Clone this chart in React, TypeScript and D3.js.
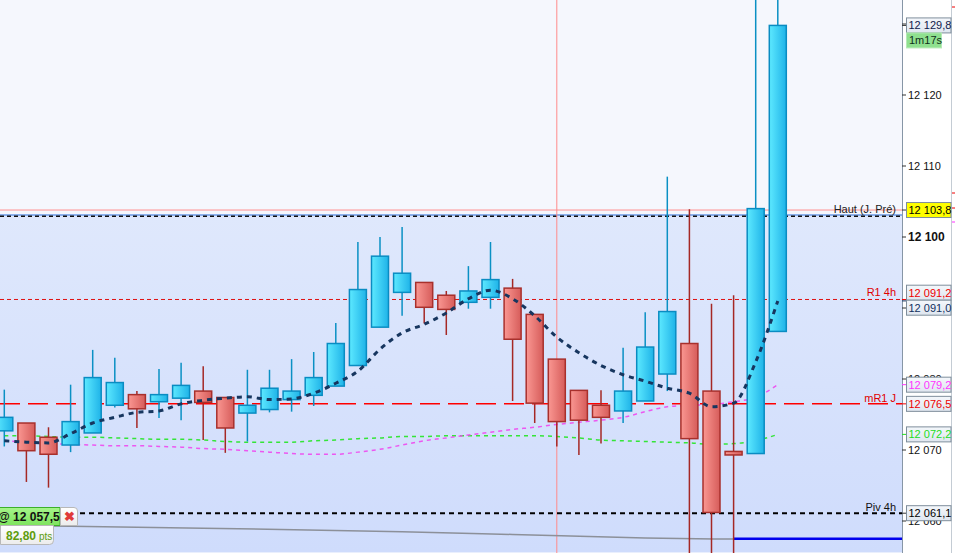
import React from "react";
import * as d3 from "d3";

const W = 955;
const H = 553;

// ---- candle data (index-based time axis) ----
const openP = [12072.7, 12073.8, 12071.8, 12070.7, 12072.4, 12076.3, 12077.8, 12076.8, 12077.3, 12078.3, 12077.4, 12075.2, 12075.7, 12077.1, 12077.7, 12079.0, 12081.9, 12087.3, 12092.2, 12093.6, 12091.8, 12090.8, 12091.5, 12092.8, 12089.1, 12082.8, 12078.4, 12076.3, 12075.5, 12076.9, 12080.7, 12085.0, 12078.3, 12069.8, 12069.5, 12086.7];
const highP = [12078.5, 12073.8, 12073.2, 12079.2, 12084.1, 12083.0, 12078.3, 12081.4, 12082.3, 12081.8, 12077.4, 12081.3, 12081.3, 12082.8, 12083.8, 12087.9, 12099.3, 12100.0, 12101.4, 12093.6, 12092.4, 12095.9, 12099.3, 12094.1, 12089.1, 12082.8, 12078.4, 12078.4, 12084.4, 12089.4, 12108.5, 12103.9, 12090.6, 12091.8, 12136.0, 12136.0];
const lowP = [12070.5, 12065.5, 12064.7, 12069.7, 12072.4, 12076.0, 12073.1, 12074.5, 12074.2, 12071.4, 12069.6, 12071.2, 12075.3, 12075.4, 12076.2, 12079.0, 12081.9, 12087.3, 12088.9, 12087.8, 12086.2, 12089.9, 12089.9, 12076.9, 12073.8, 12070.5, 12069.3, 12070.9, 12073.8, 12076.9, 12078.3, 12052.0, 12052.0, 12052.0, 12069.5, 12086.7];
const closeP = [12074.6, 12069.9, 12069.4, 12074.0, 12080.2, 12079.5, 12075.8, 12077.8, 12079.1, 12076.7, 12073.1, 12076.3, 12078.7, 12078.3, 12080.2, 12085.0, 12092.6, 12097.3, 12094.9, 12090.1, 12089.8, 12092.4, 12094.0, 12085.6, 12076.6, 12074.0, 12074.2, 12074.6, 12078.3, 12084.5, 12089.5, 12071.6, 12061.2, 12069.3, 12104.0, 12129.8];

// ---- moving averages (one value per candle) ----
const maFast = [12071.3, 12071.1, 12071.0, 12072.3, 12073.8, 12074.6, 12075.3, 12075.5, 12076.5, 12077.0, 12077.3, 12077.5, 12077.1, 12077.2, 12078.0, 12079.4, 12081.1, 12084.2, 12086.5, 12087.7, 12089.3, 12091.3, 12092.5, 12091.3, 12088.9, 12085.9, 12083.7, 12081.9, 12080.6, 12079.7, 12078.7, 12078.0, 12076.1, 12076.6, 12082.4, 12091.0];
const maGreen = [12072.0, 12072.0, 12071.9, 12071.8, 12071.8, 12071.7, 12071.6, 12071.5, 12071.5, 12071.4, 12071.2, 12071.1, 12071.1, 12071.1, 12071.3, 12071.4, 12071.6, 12071.7, 12071.9, 12071.9, 12072.0, 12072.0, 12072.0, 12072.0, 12072.0, 12071.9, 12071.7, 12071.4, 12071.3, 12071.2, 12071.1, 12071.0, 12070.8, 12070.9, 12071.3, 12072.2];
const maMagenta = [12071.3, 12071.1, 12070.9, 12070.8, 12070.7, 12070.6, 12070.6, 12070.5, 12070.4, 12070.2, 12070.1, 12069.9, 12069.7, 12069.5, 12069.4, 12069.4, 12069.7, 12070.1, 12070.7, 12071.3, 12071.7, 12072.1, 12072.5, 12072.9, 12073.2, 12073.6, 12073.9, 12074.2, 12074.6, 12075.4, 12076.1, 12076.3, 12076.4, 12076.8, 12077.4, 12079.2];
const maSlowIdx = [-0.3, 3, 9, 18, 23, 29, 33];
const maSlowVal = [12059.37, 12059.25, 12058.99, 12058.49, 12058.1, 12057.6, 12057.45];

// ---- levels ----
const prevHigh = 12103.8;
const prevHighDash = 12103.0;
const r14h = 12091.2;
const mr1j = 12076.5;
const piv4h = 12061.1;
const entryPrice = 12057.5;
const entryIdx = 33;
const cursorIdx = 25;

// ---- right axis ----
const tickValues = [12060, 12070, 12080, 12090, 12100, 12110, 12120, 12130];
const boldTick = 12100;

const priceLabelValues = [12129.8, 12103.8, 12091.2, 12091.0, 12079.2, 12076.5, 12072.2, 12061.1];
const priceLabelTexts = ["12 129,8", "12 103,8", "12 091,2", "12 091,0", "12 079,2", "12 076,5", "12 072,2", "12 061,1"];
const priceLabelKinds = ["last", "high", "r1", "ma", "mag", "mr1", "green", "piv"];

const levelNames = ["Haut (J. Pré)", "R1 4h", "mR1 J", "Piv 4h"];
const timerText = "1m17s";
const entryText = "@ 12 057,5";
const ptsValue = "82,80";
const ptsUnit = "pts";

const fmt = (v: number) => {
  const s = String(Math.round(v));
  return s.slice(0, 2) + " " + s.slice(2);
};

const kindStyle: Record<string, { color: string; fill: string }> = {
  last: { color: "#10204a", fill: "url(#lblGrad)" },
  high: { color: "#000", fill: "#ffff00" },
  r1: { color: "#ee0000", fill: "url(#lblGrad)" },
  ma: { color: "#12305e", fill: "url(#lblGrad)" },
  mag: { color: "#ff33ff", fill: "url(#lblGrad)" },
  mr1: { color: "#ee0000", fill: "url(#lblGrad)" },
  green: { color: "#22dd22", fill: "url(#lblGrad)" },
  piv: { color: "#000", fill: "url(#lblGrad)" },
};

export default function App() {
  const plotRight = 902;
  const font = "'Liberation Sans', Arial, sans-serif";
  const x = d3.scaleLinear().domain([0, 35]).range([4.3, 777.8]);
  const y = d3.scaleLinear().domain([12060, 12130]).range([521, 24]);
  const bodyW = 17;
  const idx = d3.range(openP.length);

  const lineFor = (vals: number[]) =>
    d3
      .line<number>()
      .x((_, i) => x(i))
      .y((v) => y(v))
      .curve(d3.curveMonotoneX)(vals) as string;

  const slowLine = d3
    .line<number>()
    .x((_, i) => x(maSlowIdx[i]))
    .y((v) => y(v))
    .curve(d3.curveMonotoneX)(maSlowVal) as string;

  // label boxes with collision avoidance
  const boxH = 15;
  const labels = priceLabelValues
    .map((v, i) => ({ v, t: priceLabelTexts[i], k: priceLabelKinds[i], cy: y(v), ty: y(v) }))
    .sort((a, b) => a.cy - b.cy);
  for (let iter = 0; iter < 10; iter++) {
    for (let i = 1; i < labels.length; i++) {
      const a = labels[i - 1];
      const b = labels[i];
      const overlap = boxH - (b.cy - a.cy);
      if (overlap > 0) {
        a.cy -= overlap / 2;
        b.cy += overlap / 2;
      }
    }
  }

  const levelY = [y(prevHigh), y(r14h), y(mr1j), y(piv4h)];

  return (
    <svg
      width={W}
      height={H}
      style={{ position: "absolute", left: 0, top: 0, fontFamily: font }}
    >
      <defs>
        <linearGradient id="bgGrad" x1="0" y1="0" x2="0" y2="1">
          <stop offset="0" stopColor="#dfe8fc" />
          <stop offset="1" stopColor="#cfdcfc" />
        </linearGradient>
        <linearGradient id="upGrad" x1="0" y1="0" x2="1" y2="0">
          <stop offset="0" stopColor="#5de9ff" />
          <stop offset="1" stopColor="#1fb3e8" />
        </linearGradient>
        <linearGradient id="dnGrad" x1="0" y1="0" x2="1" y2="0">
          <stop offset="0" stopColor="#fa9792" />
          <stop offset="1" stopColor="#d65c5a" />
        </linearGradient>
        <linearGradient id="lblGrad" x1="0" y1="0" x2="0" y2="1">
          <stop offset="0" stopColor="#f4f7fb" />
          <stop offset="1" stopColor="#dfe6ef" />
        </linearGradient>
        <linearGradient id="greenBox" x1="0" y1="0" x2="0" y2="1">
          <stop offset="0" stopColor="#a6f58a" />
          <stop offset="1" stopColor="#7ee35e" />
        </linearGradient>
        <linearGradient id="greyBox" x1="0" y1="0" x2="0" y2="1">
          <stop offset="0" stopColor="#ffffff" />
          <stop offset="1" stopColor="#ececec" />
        </linearGradient>
        <clipPath id="plotClip">
          <rect x={0} y={0} width={plotRight} height={H} />
        </clipPath>
      </defs>

      {/* backgrounds */}
      <rect x={0} y={0} width={W} height={H} fill="#ffffff" />
      <rect x={0} y={0} width={plotRight} height={H} fill="#f5f7fd" />
      <rect x={0} y={y(prevHighDash) - 0.7} width={plotRight} height={H - y(prevHighDash)} fill="url(#bgGrad)" />

      <g clipPath="url(#plotClip)">
        {/* top range lines */}
        <line x1={0} x2={plotRight} y1={y(prevHighDash) - 0.7} y2={y(prevHighDash) - 0.7} stroke="#6a9ae6" strokeWidth={1.5} />
        <line x1={0} x2={plotRight} y1={y(prevHigh)} y2={y(prevHigh)} stroke="#ff9090" strokeWidth={1} />
        <line x1={0} x2={plotRight} y1={y(prevHighDash) + 0.5} y2={y(prevHighDash) + 0.5} stroke="#111" strokeWidth={1.5} strokeDasharray="4 3" />

        {/* vertical cursor */}
        <line x1={x(cursorIdx)} x2={x(cursorIdx)} y1={0} y2={H} stroke="#ff8a8a" strokeWidth={1} />

        {/* level lines */}
        <line x1={0} x2={plotRight} y1={y(r14h)} y2={y(r14h)} stroke="#e01010" strokeWidth={1} strokeDasharray="4 3" />
        <line x1={0} x2={plotRight} y1={y(mr1j)} y2={y(mr1j)} stroke="#ff0000" strokeWidth={1.5} strokeDasharray="20 8" />
        <line x1={80} x2={plotRight} y1={y(piv4h)} y2={y(piv4h)} stroke="#000" strokeWidth={2} strokeDasharray="5 4" />

        {/* slow MA + position line */}
        <path d={slowLine} fill="none" stroke="#8c9099" strokeWidth={1.5} />
        <line x1={x(entryIdx)} x2={plotRight} y1={y(entryPrice)} y2={y(entryPrice)} stroke="#0000ee" strokeWidth={2.5} />

        {/* MAs */}
        <path d={lineFor(maGreen)} fill="none" stroke="#22e622" strokeWidth={1.5} strokeDasharray="4 4" opacity={0.9} />
        <path d={lineFor(maMagenta)} fill="none" stroke="#f048f0" strokeWidth={1.5} strokeDasharray="4 4" opacity={0.9} />

        {/* candles */}
        {idx.map((i) => {
          const up = closeP[i] >= openP[i];
          const cx = x(i);
          const top = y(Math.max(openP[i], closeP[i]));
          const bot = y(Math.min(openP[i], closeP[i]));
          const wick = up ? "#0a90c4" : "#a52825";
          return (
            <g key={i}>
              <line x1={cx} x2={cx} y1={y(highP[i])} y2={y(lowP[i])} stroke={wick} strokeWidth={1.5} />
              <rect
                x={cx - bodyW / 2}
                y={top}
                width={bodyW}
                height={Math.max(bot - top, 2)}
                fill={up ? "url(#upGrad)" : "url(#dnGrad)"}
                stroke={up ? "#0a8cc2" : "#a8302c"}
                strokeWidth={1.5}
              />
            </g>
          );
        })}

        {/* fast MA on top */}
        <path d={lineFor(maFast)} fill="none" stroke="#17365f" strokeWidth={3} strokeDasharray="5 5" />

        {/* level names */}
        <g fontSize={11} textAnchor="end">
          <text x={896} y={levelY[0] + 3} fill="#222">{levelNames[0]}</text>
          <text x={896} y={levelY[1] - 3} fill="#e00000">{levelNames[1]}</text>
          <text x={896} y={levelY[2] - 2} fill="#e00000">{levelNames[2]}</text>
          <text x={896} y={levelY[3] - 2} fill="#111">{levelNames[3]}</text>
        </g>
      </g>

      {/* right axis */}
      <line x1={plotRight + 0.5} x2={plotRight + 0.5} y1={0} y2={H} stroke="#8796a6" strokeWidth={1} />
      <line x1={951.5} x2={951.5} y1={0} y2={H} stroke="#c4ccd4" strokeWidth={1} />
      {tickValues.map((v) => (
        <g key={v}>
          <line x1={plotRight} x2={plotRight + 4} y1={y(v)} y2={y(v)} stroke="#333" />
          <text
            x={908}
            y={y(v) + 4}
            fontSize={v === boldTick ? 12 : 11}
            fontWeight={v === boldTick ? "bold" : "normal"}
            fill="#111"
          >
            {fmt(v)}
          </text>
        </g>
      ))}

      {labels.map((l) => {
        const st = kindStyle[l.k];
        return (
          <g key={l.t + l.k}>
            <line x1={plotRight} x2={906} y1={l.ty} y2={l.ty} stroke={l.k === "high" || l.k === "piv" || l.k === "last" ? "#333" : st.color} />
            <rect x={906.5} y={l.cy - boxH / 2} width={44.5} height={boxH} fill={st.fill} stroke="#7f8e9c" strokeWidth={1} />
            <text x={908.5} y={l.cy + 4} fontSize={11} fill={st.color}>
              {l.t}
            </text>
          </g>
        );
      })}

      {/* timer box */}
      <rect x={906.5} y={y(priceLabelValues[0]) + boxH / 2} width={35} height={15} fill="#8fe08f" stroke="#b6eab6" />
      <text x={909} y={y(priceLabelValues[0]) + boxH / 2 + 11.5} fontSize={11} fill="#10301a">
        {timerText}
      </text>

      {/* tiny marks on the far right */}
      <line x1={952} x2={955} y1={7} y2={7} stroke="#e00" />
      <line x1={952} x2={955} y1={193} y2={193} stroke="#e00" />
      <line x1={952} x2={955} y1={208} y2={208} stroke="#e00" />
      <line x1={952} x2={955} y1={222} y2={222} stroke="#f3f" />

      {/* position boxes bottom-left */}
      <rect x={-4} y={507.5} width={64} height={18} fill="url(#greenBox)" stroke="#3cb02a" strokeWidth={1} />
      <text x={-2} y={521} fontSize={12} fontWeight="bold" fill="#111">
        {entryText}
      </text>
      <path d="M60.5,507.5 H74 Q77.5,507.5 77.5,511 V525.5 H60.5 Z" fill="url(#greyBox)" stroke="#b8b8b8" />
      <text x={69} y={521} fontSize={13} fontWeight="bold" fill="#e03a3a" textAnchor="middle">
        ✖
      </text>
      <path d="M0.5,525.5 H53.5 V540.5 Q53.5,544.5 49.5,544.5 H0.5 Z" fill="url(#greyBox)" stroke="#b8b8b8" />
      <text x={6} y={540} fontSize={12} fontWeight="bold" fill="#5e9c0e">
        {ptsValue}
        <tspan fontSize={10} fontWeight="normal" dx={3}>
          {ptsUnit}
        </tspan>
      </text>
    </svg>
  );
}
